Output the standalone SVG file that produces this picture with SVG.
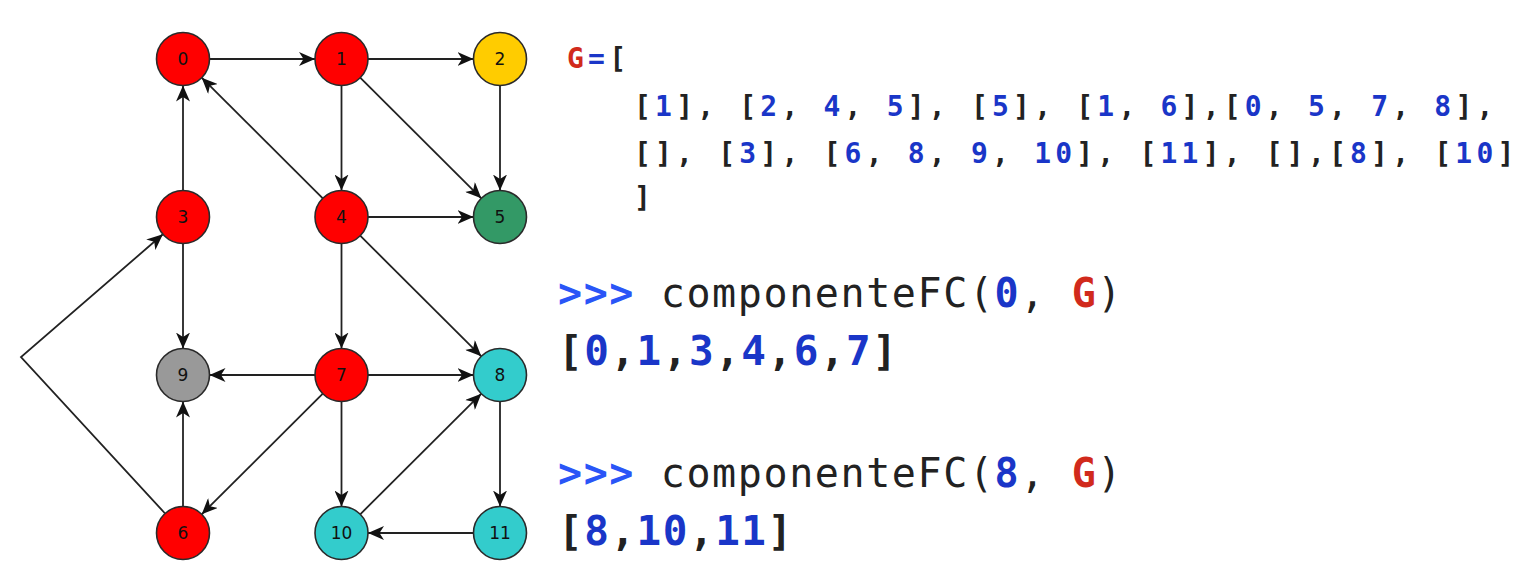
<svg xmlns="http://www.w3.org/2000/svg" width="1528" height="586" viewBox="0 0 1528 586">
<defs>
<style>
.edge{stroke:#222;stroke-width:1.8;fill:none;marker-end:url(#arr)}
.nd{stroke:#2a2a2a;stroke-width:1.6}
.lbl{font-family:"DejaVu Sans",sans-serif;font-size:17px;fill:#111;text-anchor:middle}
.code{font-family:"DejaVu Sans Mono",monospace;font-weight:bold;font-size:28px;letter-spacing:4.2px;fill:#222;white-space:pre}
.prompt{font-family:"DejaVu Sans Mono",monospace;font-size:40px;letter-spacing:1.6px;fill:#222;white-space:pre}
.res{font-family:"DejaVu Sans Mono",monospace;font-weight:bold;font-size:41px;letter-spacing:1.5px;fill:#222;white-space:pre}
.n{fill:#1a36c8}
.g{fill:#d12a1c}
.pb{fill:#2a55f7;font-weight:bold}
.bd{font-weight:bold}
</style>
<marker id="arr" markerUnits="userSpaceOnUse" markerWidth="17" markerHeight="14" refX="16" refY="7" orient="auto">
<path d="M0,0 L16,7 L0,14 L4.5,7 z" fill="#111"/>
</marker>
</defs>
<rect width="1528" height="586" fill="#fff"/>
<g id="connectors">
<line class="edge" x1="209.5" y1="59" x2="315" y2="59"/>
<line class="edge" x1="368" y1="59" x2="473.5" y2="59"/>
<line class="edge" x1="368" y1="217" x2="473.5" y2="217"/>
<line class="edge" x1="315" y1="375" x2="209.5" y2="375"/>
<line class="edge" x1="368" y1="375" x2="473.5" y2="375"/>
<line class="edge" x1="473.5" y1="533" x2="368" y2="533"/>
<line class="edge" x1="183" y1="190.5" x2="183" y2="85.5"/>
<line class="edge" x1="341.5" y1="85.5" x2="341.5" y2="190.5"/>
<line class="edge" x1="500" y1="85.5" x2="500" y2="190.5"/>
<line class="edge" x1="183" y1="243.5" x2="183" y2="348.5"/>
<line class="edge" x1="341.5" y1="243.5" x2="341.5" y2="348.5"/>
<line class="edge" x1="183" y1="506.5" x2="183" y2="401.5"/>
<line class="edge" x1="341.5" y1="401.5" x2="341.5" y2="506.5"/>
<line class="edge" x1="500" y1="401.5" x2="500" y2="506.5"/>
<line class="edge" x1="360.2" y1="77.7" x2="481.3" y2="198.3"/>
<line class="edge" x1="322.8" y1="198.3" x2="201.7" y2="77.7"/>
<line class="edge" x1="360.2" y1="235.7" x2="481.3" y2="356.3"/>
<line class="edge" x1="322.8" y1="393.7" x2="201.7" y2="514.3"/>
<line class="edge" x1="360.2" y1="514.3" x2="481.3" y2="393.7"/>
<polyline class="edge" points="165.1,513.5 21,357 162.9,234.3"/>
</g>
<g id="node0"><circle class="nd" cx="183" cy="59" r="26.5" fill="#ff0000"/><text class="lbl" x="183" y="65">0</text></g>
<g id="node1"><circle class="nd" cx="341.5" cy="59" r="26.5" fill="#ff0000"/><text class="lbl" x="341.5" y="65">1</text></g>
<g id="node2"><circle class="nd" cx="500" cy="59" r="26.5" fill="#ffcc00"/><text class="lbl" x="500" y="65">2</text></g>
<g id="node3"><circle class="nd" cx="183" cy="217" r="26.5" fill="#ff0000"/><text class="lbl" x="183" y="223">3</text></g>
<g id="node4"><circle class="nd" cx="341.5" cy="217" r="26.5" fill="#ff0000"/><text class="lbl" x="341.5" y="223">4</text></g>
<g id="node5"><circle class="nd" cx="500" cy="217" r="26.5" fill="#339966"/><text class="lbl" x="500" y="223">5</text></g>
<g id="node9"><circle class="nd" cx="183" cy="375" r="26.5" fill="#999999"/><text class="lbl" x="183" y="381">9</text></g>
<g id="node7"><circle class="nd" cx="341.5" cy="375" r="26.5" fill="#ff0000"/><text class="lbl" x="341.5" y="381">7</text></g>
<g id="node8"><circle class="nd" cx="500" cy="375" r="26.5" fill="#33cccc"/><text class="lbl" x="500" y="381">8</text></g>
<g id="node6"><circle class="nd" cx="183" cy="533" r="26.5" fill="#ff0000"/><text class="lbl" x="183" y="539">6</text></g>
<g id="node10"><circle class="nd" cx="341.5" cy="533" r="26.5" fill="#33cccc"/><text class="lbl" x="341.5" y="539">10</text></g>
<g id="node11"><circle class="nd" cx="500" cy="533" r="26.5" fill="#33cccc"/><text class="lbl" x="500" y="539">11</text></g>
<g id="code">
<text class="code" x="567" y="68"><tspan class="g">G</tspan><tspan class="n">=</tspan>[</text>
<text class="code" x="634" y="116">[<tspan class="n">1</tspan>], [<tspan class="n">2</tspan>, <tspan class="n">4</tspan>, <tspan class="n">5</tspan>], [<tspan class="n">5</tspan>], [<tspan class="n">1</tspan>, <tspan class="n">6</tspan>],[<tspan class="n">0</tspan>, <tspan class="n">5</tspan>, <tspan class="n">7</tspan>, <tspan class="n">8</tspan>],</text>
<text class="code" x="634" y="163">[], [<tspan class="n">3</tspan>], [<tspan class="n">6</tspan>, <tspan class="n">8</tspan>, <tspan class="n">9</tspan>, <tspan class="n">10</tspan>], [<tspan class="n">11</tspan>], [],[<tspan class="n">8</tspan>], [<tspan class="n">10</tspan>]</text>
<text class="code" x="634" y="207">]</text>
<text class="prompt" x="558" y="307"><tspan class="pb">&gt;&gt;&gt;</tspan> componenteFC(<tspan class="n bd">0</tspan>, <tspan class="g bd">G</tspan>)</text>
<text class="res" x="558" y="365">[<tspan class="n">0</tspan>,<tspan class="n">1</tspan>,<tspan class="n">3</tspan>,<tspan class="n">4</tspan>,<tspan class="n">6</tspan>,<tspan class="n">7</tspan>]</text>
<text class="prompt" x="558" y="487"><tspan class="pb">&gt;&gt;&gt;</tspan> componenteFC(<tspan class="n bd">8</tspan>, <tspan class="g bd">G</tspan>)</text>
<text class="res" x="558" y="545">[<tspan class="n">8</tspan>,<tspan class="n">10</tspan>,<tspan class="n">11</tspan>]</text>
</g>
</svg>
